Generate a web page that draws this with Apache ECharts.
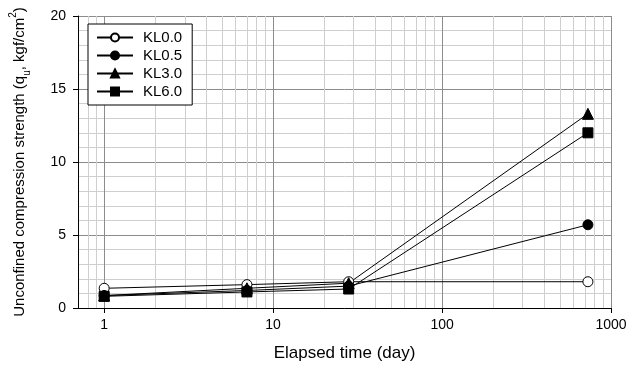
<!DOCTYPE html>
<html><head><meta charset="utf-8">
<script src="https://cdn.jsdelivr.net/npm/echarts@6/dist/echarts.min.js"></script>
<style>html,body{margin:0;padding:0;background:#fff}#c{width:641px;height:367px}</style>
</head><body><div id="c"></div>
<script>
const days = [1, 7, 28, 730];
const seriesNames = ['KL0.0', 'KL0.5', 'KL3.0', 'KL6.0'];
const kl00 = [1.35, 1.6, 1.8, 1.8];
const kl05 = [0.85, 1.2, 1.5, 5.7];
const kl30 = [0.85, 1.35, 1.7, 13.3];
const kl60 = [0.8, 1.1, 1.3, 12.0];
const yTicks = [0, 5, 10, 15, 20];
const xTicks = [1, 10, 100, 1000];

const minorX = [];
[0.1, 1, 10, 100].forEach(d => { for (let k = 2; k <= 9; k++) { const v = +(d * k).toPrecision(3); if (v > 0.7 && v < 1000) minorX.push(v); } });

const font = 'Liberation Sans, Arial, sans-serif';
const symbols = [
  {symbol: 'circle', color: '#fff'},
  {symbol: 'circle', color: '#000'},
  {symbol: 'triangle', color: '#000'},
  {symbol: 'rect', color: '#000'}
];
const vals = [kl00, kl05, kl30, kl60];
const series = [{
  type: 'line', data: [], silent: true, z: 1,
  markLine: {silent: true, z: 1, symbol: 'none', label: {show: false}, animation: false,
    lineStyle: {color: '#cfcfcf', type: 'solid', width: 1},
    data: minorX.map(v => ({xAxis: v}))}
}];
vals.forEach((arr, i) => {
  series.push({
    name: seriesNames[i], type: 'line', z: 3,
    data: days.map((d, j) => [d, arr[j]]),
    symbol: symbols[i].symbol, symbolSize: i === 2 ? 11 : 10, showSymbol: true,
    itemStyle: {color: symbols[i].color, borderColor: '#000', borderWidth: 1},
    lineStyle: {color: '#000', width: 1}
  });
});

const chart = echarts.init(document.getElementById('c'), null, {renderer: 'canvas'});
chart.setOption({
  animation: false,
  backgroundColor: '#fff',
  grid: {left: 78, right: 30, top: 16, bottom: 59, containLabel: false, outerBoundsMode: 'none'},
  legend: {
    data: seriesNames, orient: 'vertical', left: 88, top: 24, z: 10,
    backgroundColor: '#fff', borderColor: '#000', borderWidth: 1,
    padding: [6, 10, 6, 8], itemGap: 3, itemWidth: 36, itemHeight: 10,
    textStyle: {fontFamily: font, fontSize: 15, color: '#000', padding: [0, 0, 0, 5]}
  },
  xAxis: {
    type: 'log', logBase: 10, min: 0.7, max: 1000,
    name: 'Elapsed time (day)', nameLocation: 'middle', nameGap: 37,
    nameTextStyle: {fontFamily: font, fontSize: 17, color: '#000'},
    axisLine: {onZero: false, lineStyle: {color: '#000', width: 1}},
    axisTick: {show: true, length: 5, inside: false, lineStyle: {color: '#000'}},
    axisLabel: {showMinLabel: false, fontFamily: font, fontSize: 14, color: '#000', margin: 10,
      formatter: v => (xTicks.indexOf(Math.round(v)) >= 0 ? String(Math.round(v)) : '')},
    splitLine: {show: true, lineStyle: {color: '#8c8c8c', width: 1}}
  },
  yAxis: {
    type: 'value', min: 0, max: 20, interval: 5,
    name: 'Unconfined compression strength (q{sub|u}, kgf/cm{sup|2})',
    nameLocation: 'middle', nameGap: 46, nameRotate: 90,
    nameTextStyle: {fontFamily: font, fontSize: 15, color: '#000', lineHeight: 24,
      rich: {
        sub: {fontFamily: font, fontSize: 10, color: '#000', verticalAlign: 'bottom', lineHeight: 16},
        sup: {fontFamily: font, fontSize: 10, color: '#000', verticalAlign: 'top', lineHeight: 16}
      }},
    axisLine: {show: true, lineStyle: {color: '#000', width: 1}},
    axisTick: {show: true, length: 5, inside: false, lineStyle: {color: '#000'}},
    axisLabel: {fontFamily: font, fontSize: 14, color: '#000', margin: 12,
      formatter: v => (yTicks.indexOf(v) >= 0 ? String(v) : '')},
    splitLine: {show: true, lineStyle: {color: '#8c8c8c', width: 1}},
    minorTick: {show: false, splitNumber: 5},
    minorSplitLine: {show: true, lineStyle: {color: '#cfcfcf', width: 1}}
  },
  series: series
});
</script>
</body></html>
